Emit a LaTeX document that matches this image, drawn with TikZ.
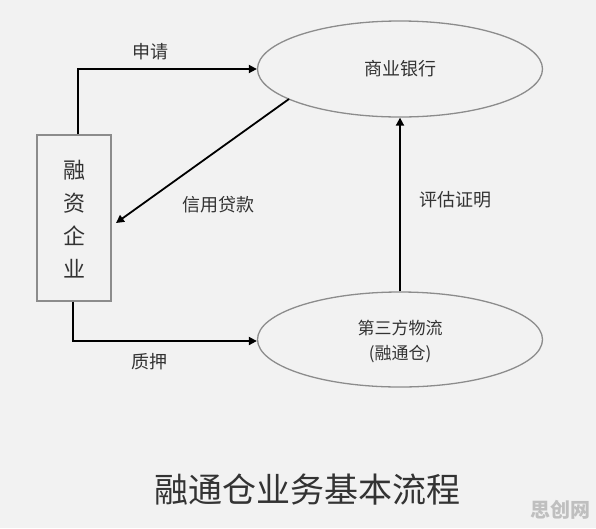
\documentclass[tikz,border=0pt]{standalone}
\usepackage{fontspec}
\newfontfamily\cjk{Noto Sans CJK SC}
\usetikzlibrary{arrows.meta,shapes.geometric}
\definecolor{bg}{HTML}{F2F2F2}
\definecolor{txt}{HTML}{333333}
\definecolor{edge}{HTML}{8C8C8C}
\begin{document}
\begin{tikzpicture}[x=1pt,y=-1pt,
  lbl/.style={font=\cjk\fontsize{18}{21}\selectfont, text=txt, inner sep=0pt},
  ell/.style={draw=edge, line width=1.3pt, shape=ellipse, inner sep=0pt, minimum width=285pt},
  arr/.style={draw=black, line width=1.8pt, -{Triangle[length=8pt,width=8pt]}},
  boxst/.style={draw=edge, line width=1.3pt, minimum width=74pt, minimum height=166pt, inner sep=0pt}]
\fill[bg] (0,0) rectangle (596,528);
\useasboundingbox (0,0) rectangle (596,528);
\node[ell, minimum height=96pt] (bank) at (400,69) {};
\node[lbl] at (bank.center) {商业银行};
\node[ell, minimum height=95pt] (wl) at (400,339.5) {};
\node[lbl, font=\cjk\fontsize{17}{20}\selectfont, align=center] at (400,341) {第三方物流\\[5pt](融通仓)};
\node[boxst] (ent) at (74,218) {};
\node[font=\cjk\fontsize{22}{33}\selectfont, text=txt, align=center] at (74,219) {融\\资\\企\\业};
% connectors
\coordinate (c1) at (78,69);
\coordinate (c2) at (73,341);
\draw[arr] (ent.north -| c1) -- (c1) -- (bank.west |- c1);
\draw[arr] (ent.south -| c2) -- (c2) -- (wl.west |- c2);
\coordinate (d1) at (289,99);
\coordinate (d2) at (116,223);
\draw[arr] (d1) -- (d2);
\draw[arr] (wl.north) -- (bank.south);
% labels
\node[lbl] at (150,52) {申请};
\node[lbl] at (218,205) {信用贷款};
\node[lbl] at (149,362) {质押};
\node[lbl] at (455,200) {评估证明};
\node[font=\cjk\fontsize{34}{40}\selectfont, text=txt] at (307,490) {融通仓业务基本流程};
\node[font=\cjk\bfseries\fontsize{20}{24}\selectfont, text=black!25] at (560,510) {思创网};
\end{tikzpicture}
\end{document}
